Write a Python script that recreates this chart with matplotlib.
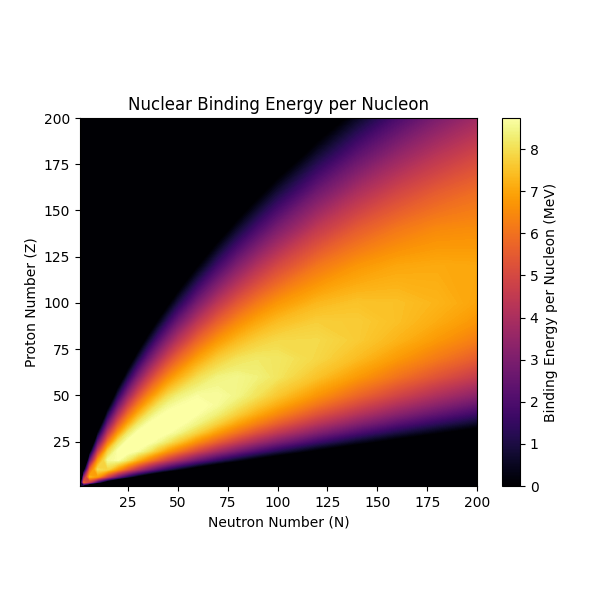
"""Nuclear binding energy per nucleon, estimated on a coarse (N, Z) grid."""

import matplotlib

matplotlib.use('Agg')

import matplotlib.cm
import matplotlib.colors
import matplotlib.pyplot
import numpy

VMAX = 8.74

neutrons = [1, 3, 6, 10, 15, 20, 25, 30, 35, 40, 45, 50, 60, 70, 80, 90, 100,
            120, 140, 160, 180, 200]
protons = [1, 3, 6, 10, 15, 20, 25, 30, 35, 40, 45, 50, 60, 70, 80, 90, 100,
           120, 140, 160, 180, 200]

# MeV per nucleon, one row per proton number, one value per neutron number.
# Negative entries only say how far below the black edge a node sits.
z_1 = [1.6, -1.4, -5.6, -6, -6, -6, -6, -6, -6, -6, -6, -6, -6, -6, -6, -6, -6, -6, -6, -6, -6, -6]
z_3 = [-2.1, 5.6, 4.3, 1.2, -1.7, -3.5, -4.8, -5.7, -6, -6, -6, -6, -6, -6, -6, -6, -6, -6, -6, -6, -6, -6]
z_6 = [-6, 3.4, 7.2, 6.7, 4.6, 2.6, 0.96, -0.35, -1.4, -2.3, -3.0, -3.6, -4.6, -5.3, -6, -6, -6, -6, -6, -6, -6, -6]
z_10 = [-6, -0.8, 5.6, 8.0, 7.8, 6.7, 5.4, 4.15, 3.04, 2.04, 1.16, 0.4, -0.88, -1.9, -2.7, -3.4, -4.0, -4.8, -5.5, -6, -6, -6]
z_15 = [-6, -4.7, 2.4, 6.7, 8.55, 8.7, 8.1, 7.2, 6.32, 5.46, 4.63, 3.88, 2.53, 1.38, 0.42, -0.41, -1.13, -2.28, -3.15, -3.86, -4.42, -4.89]
z_20 = [-6, -6, -0.6, 4.5, 7.7, 8.74, 8.9, 8.65, 8.2, 7.5, 6.78, 6.15, 4.91, 3.8, 2.81, 1.92, 1.15, -0.14, -1.17, -2.01, -2.69, -3.27]
z_25 = [-6, -6, -3.2, 2.23, 5.95, 8.0, 8.8, 8.9, 8.85, 8.55, 8.15, 7.65, 6.54, 5.55, 4.62, 3.76, 2.98, 1.63, 0.52, -0.4, -1.17, -1.83]
z_30 = [-6, -6, -5.4, 0.1, 4.26, 6.61, 8.1, 8.75, 8.9, 8.9, 8.75, 8.5, 7.75, 6.8, 5.96, 5.17, 4.43, 3.09, 1.96, 0.99, 0.17, -0.55]
z_35 = [-6, -6, -6, -1.84, 2.54, 5.26, 6.93, 8.1, 8.65, 8.9, 8.9, 8.85, 8.4, 7.75, 6.95, 6.25, 5.57, 4.29, 3.18, 2.19, 1.35, 0.61]
z_40 = [-6, -6, -6, -3.6, 0.87, 3.84, 5.82, 7.11, 8.05, 8.55, 8.8, 8.85, 8.7, 8.3, 7.7, 7.05, 6.44, 5.26, 4.2, 3.23, 2.37, 1.62]
z_45 = [-6, -6, -6, -5.26, -0.73, 2.42, 4.63, 6.12, 7.17, 8.0, 8.45, 8.65, 8.8, 8.6, 8.15, 7.62, 7.1, 6.04, 5.03, 4.1, 3.26, 2.49]
z_50 = [-6, -6, -6, -6, -2.2, 1.05, 3.39, 5.09, 6.3, 7.18, 7.9, 8.3, 8.65, 8.65, 8.45, 8.05, 7.58, 6.67, 5.74, 4.86, 4.03, 3.29]
z_60 = [-6, -6, -6, -6, -5, -1.6, 0.95, 2.92, 4.4, 5.55, 6.42, 7.05, 7.95, 8.38, 8.48, 8.35, 8.12, 7.49, 6.77, 6.01, 5.27, 4.57]
z_70 = [-6, -6, -6, -6, -6, -4, -1.39, 0.74, 2.42, 3.75, 4.84, 5.68, 6.88, 7.65, 8.05, 8.2, 8.15, 7.87, 7.38, 6.77, 6.15, 5.53]
z_80 = [-6, -6, -6, -6, -6, -6, -3.59, -1.4, 0.43, 1.93, 3.14, 4.15, 5.66, 6.66, 7.29, 7.69, 7.89, 7.92, 7.66, 7.25, 6.75, 6.23]
z_90 = [-6, -6, -6, -6, -6, -6, -5.66, -3.4, -1.51, 0.08, 1.42, 2.56, 4.31, 5.54, 6.41, 6.99, 7.37, 7.71, 7.67, 7.45, 7.1, 6.69]
z_100 = [-6, -6, -6, -6, -6, -6, -6, -5.3, -3.38, -1.71, -0.29, 0.94, 2.88, 4.33, 5.38, 6.14, 6.69, 7.3, 7.51, 7.46, 7.26, 6.96]
z_120 = [-6, -6, -6, -6, -6, -6, -6, -6, -6, -5.16, -3.62, -2.26, -0.03, 1.71, 3.08, 4.14, 4.96, 6.08, 6.71, 7.01, 7.08, 7.03]
z_140 = [-6, -6, -6, -6, -6, -6, -6, -6, -6, -6, -6, -5.34, -2.91, -0.96, 0.63, 1.89, 2.95, 4.49, 5.48, 6.1, 6.46, 6.54]
z_160 = [-6, -6, -6, -6, -6, -6, -6, -6, -6, -6, -6, -6, -5.71, -3.64, -1.87, -0.41, 0.81, 2.68, 3.99, 4.88, 5.49, 5.89]
z_180 = [-6, -6, -6, -6, -6, -6, -6, -6, -6, -6, -6, -6, -6, -6, -4.34, -2.75, -1.4, 0.73, 2.31, 3.45, 4.29, 4.91]
z_200 = [-6, -6, -6, -6, -6, -6, -6, -6, -6, -6, -6, -6, -6, -6, -6, -5.08, -3.63, -1.27, 0.52, 1.9, 2.95, 3.74]

rows = [z_1, z_3, z_6, z_10, z_15, z_20, z_25, z_30, z_35, z_40, z_45, z_50,
        z_60, z_70, z_80, z_90, z_100, z_120, z_140, z_160, z_180, z_200]

figure = matplotlib.pyplot.figure(figsize=(6, 6), dpi=100)
axes = figure.add_axes([80 / 600, 114 / 600, 397 / 600, 368 / 600])
axes.set_facecolor('black')

norm = matplotlib.colors.Normalize(vmin=0, vmax=VMAX)
axes.contourf(
    neutrons, protons, numpy.array(rows), levels=numpy.linspace(0, VMAX, 200),
    cmap='inferno', norm=norm, extend='both')
axes.set_xlim(1, 200)
axes.set_ylim(1, 200)
axes.set_xticks([25, 50, 75, 100, 125, 150, 175, 200])
axes.set_yticks([25, 50, 75, 100, 125, 150, 175, 200])
axes.set_xlabel('Neutron Number (N)')
axes.set_ylabel('Proton Number (Z)')
axes.set_title('Nuclear Binding Energy per Nucleon')

bar_axes = figure.add_axes([502 / 600, 114 / 600, 18 / 600, 368 / 600])
colorbar = figure.colorbar(
    matplotlib.cm.ScalarMappable(norm=norm, cmap='inferno'), cax=bar_axes)
colorbar.set_label('Binding Energy per Nucleon (MeV)')

figure.savefig('out.png', dpi=100)
